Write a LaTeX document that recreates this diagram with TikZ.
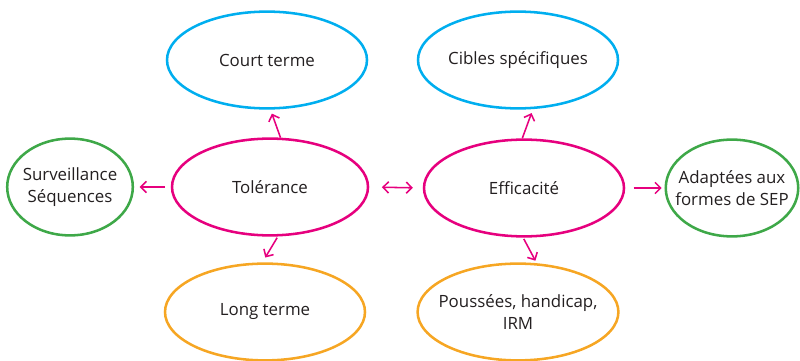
\documentclass[tikz,border=0pt]{standalone}
\usepackage{fontspec}
\setmainfont{Open Sans}
\usetikzlibrary{shapes.geometric,arrows.meta}
\definecolor{bulle}{RGB}{0,174,239}
\definecolor{rose}{RGB}{230,0,126}
\definecolor{vert}{RGB}{62,168,72}
\definecolor{orange}{RGB}{246,166,35}
\definecolor{texte}{RGB}{35,31,32}

\begin{document}
\begin{tikzpicture}[every node/.style={font=\fontsize{12}{15.5}\selectfont, align=center, text=texte},
  bulle/.style={draw, ellipse, line width=1.8pt, inner sep=0pt, minimum width=5cm, minimum height=2.42cm},
  petite/.style={bulle, minimum width=3.1cm},
  fleche/.style={draw=rose, line width=1.1pt, -{Straight Barb[length=4pt,width=8pt]}}]
\useasboundingbox (0,0) rectangle (20,9);

\node[bulle, draw=bulle] (court) at (6.675,7.5) {Court terme};
\node[bulle, draw=bulle] (cibles) at (12.95,7.5) {Cibles spécifiques};
\node[bulle, draw=rose, minimum width=4.9cm] (tol) at (6.75,4.325) {Tolérance};
\node[bulle, draw=rose] (eff) at (13.1,4.3) {Efficacité};
\node[petite, draw=vert, inner xsep=-2pt] (surv) at (1.75,4.325) {Surveillance\\Séquences};
\node[petite, draw=vert, minimum width=3.3cm, inner xsep=-7pt] (adapt) at (18.3,4.3) {Adaptées aux\\formes de SEP};
\node[bulle, draw=orange] (long) at (6.625,1.2) {Long terme};
\node[bulle, draw=orange, inner xsep=-6pt] (pous) at (12.95,1.2) {Poussées, handicap,\\IRM};

% tolerance
\draw[fleche, shorten >=3pt] (tol.78) -- (court.-86);
\draw[fleche, shorten <=4pt, shorten >=4pt] (tol.west) -- (surv.east);
\draw[fleche, shorten <=1pt, shorten >=4pt] (tol.-81) -- (long.93);
\draw[fleche, {Straight Barb[length=4pt,width=8pt]}-{Straight Barb[length=4pt,width=8pt]}, shorten <=9pt, shorten >=7pt] (tol.east) -- (eff.west);

% efficacite
\draw[fleche, shorten >=3pt] (eff.92) -- (cibles.-73);
\draw[fleche, shorten <=6pt, shorten >=2pt] (eff.east) -- (adapt.west);
\draw[fleche, shorten <=1pt, shorten >=2pt] (eff.-91) -- (pous.69);
\end{tikzpicture}
\end{document}
